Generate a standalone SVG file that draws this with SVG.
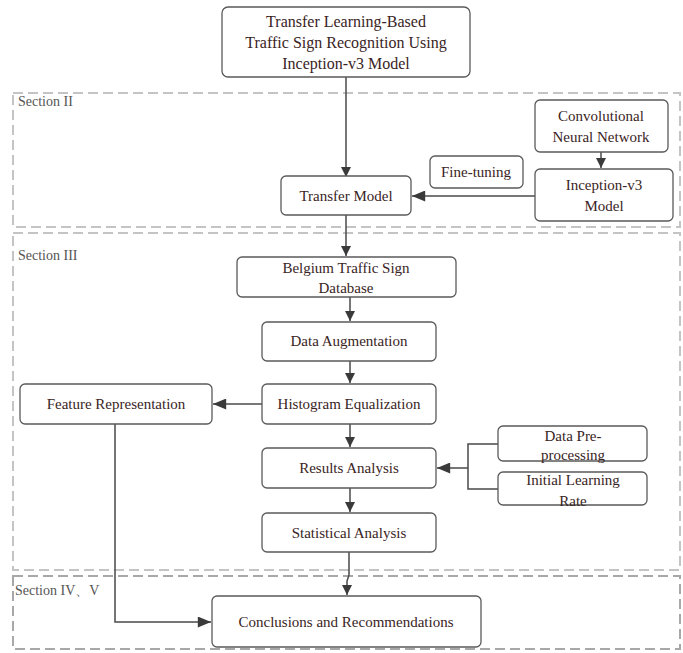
<svg xmlns="http://www.w3.org/2000/svg" width="683" height="653" viewBox="0 0 683 653">
<style>
.bg{fill:#fff}
.sec{fill:none;stroke:#c4c4c4;stroke-width:2;stroke-dasharray:10 5}
.sec2{fill:none;stroke:#a8a8a8;stroke-width:2;stroke-dasharray:10 5}
.lab{font-family:"Liberation Serif","Times New Roman","DejaVu Serif",serif;font-size:14px;fill:#555}
.box{fill:#fff;stroke:#5a5a5a;stroke-width:1.3}
.t{font-family:"Liberation Serif","Times New Roman","DejaVu Serif",serif;font-size:15px;fill:#3a2424;text-anchor:middle}
.tt{font-family:"Liberation Serif","Times New Roman","DejaVu Serif",serif;font-size:16px;fill:#3a2424;text-anchor:middle}
.c{fill:none;stroke:#4a4a4a;stroke-width:1.5}
</style>
<defs>
<marker id="ah" viewBox="0 0 10 10" refX="10" refY="5" markerWidth="10" markerHeight="10" markerUnits="userSpaceOnUse" orient="auto">
<path d="M0,0 L10,5 L0,10 z" fill="#3a3a3a"/>
</marker>
<marker id="ahw" viewBox="0 0 12 10" refX="12" refY="5" markerWidth="14" markerHeight="11" markerUnits="userSpaceOnUse" orient="auto">
<path d="M0,0 L12,5 L0,10 z" fill="#3a3a3a"/>
</marker>
</defs>
<rect class="bg" x="0" y="0" width="683" height="653"/>
<g id="sections">
<rect class="sec" x="13" y="93" width="667" height="134"/>
<text class="lab" x="18" y="106">Section  II</text>
<rect class="sec" x="13" y="233" width="667" height="337"/>
<text class="lab" x="18" y="260">Section  III</text>
<rect class="sec2" x="13" y="576" width="667" height="73"/>
<text class="lab" x="15" y="595">Section IV、V</text>
</g>
<g id="connectors">
<path class="c" d="M346,77 V177" marker-end="url(#ah)"/>
<path class="c" d="M601,152 V168" marker-end="url(#ah)"/>
<path class="c" d="M535,196 H412" marker-end="url(#ahw)"/>
<path class="c" d="M346,215 V256" marker-end="url(#ah)"/>
<path class="c" d="M350,297 V321" marker-end="url(#ah)"/>
<path class="c" d="M350,361 V383" marker-end="url(#ah)"/>
<path class="c" d="M262,404 H213" marker-end="url(#ahw)"/>
<path class="c" d="M350,424 V447" marker-end="url(#ah)"/>
<path class="c" d="M498,444 H468 V489 H498"/>
<path class="c" d="M468,468 H437" marker-end="url(#ahw)"/>
<path class="c" d="M350,488 V512" marker-end="url(#ah)"/>
<path class="c" d="M349,552 V575 L347,581 V595" marker-end="url(#ah)"/>
<path class="c" d="M115,424 V622 H211" marker-end="url(#ahw)"/>
</g>
<g id="title">
<rect class="box" x="222" y="7" width="248" height="70" rx="6"/>
<text class="tt" x="346" y="27">Transfer Learning-Based</text>
<text class="tt" x="346" y="48">Traffic Sign Recognition Using</text>
<text class="tt" x="346" y="69">Inception-v3 Model</text>
</g>
<g id="cnn">
<rect class="box" x="535" y="100" width="133" height="52" rx="5"/>
<text class="t" x="601" y="121">Convolutional</text>
<text class="t" x="601" y="142">Neural Network</text>
</g>
<g id="finetuning">
<rect class="box" x="430" y="156" width="93" height="32" rx="5"/>
<text class="t" x="476" y="177">Fine-tuning</text>
</g>
<g id="inception">
<rect class="box" x="535" y="169" width="138" height="52" rx="5"/>
<text class="t" x="604" y="190">Inception-v3</text>
<text class="t" x="604" y="211">Model</text>
</g>
<g id="transfer">
<rect class="box" x="281" y="176" width="130" height="39" rx="5"/>
<text class="t" x="346" y="201">Transfer Model</text>
</g>
<g id="belgium">
<rect class="box" x="237" y="257" width="219" height="40" rx="5"/>
<text class="t" x="346" y="273">Belgium Traffic Sign</text>
<text class="t" x="346" y="293">Database</text>
</g>
<g id="augmentation">
<rect class="box" x="262" y="322" width="174" height="39" rx="5"/>
<text class="t" x="349" y="346">Data Augmentation</text>
</g>
<g id="histogram">
<rect class="box" x="262" y="384" width="174" height="40" rx="5"/>
<text class="t" x="349" y="409">Histogram Equalization</text>
</g>
<g id="feature">
<rect class="box" x="20" y="384" width="192" height="40" rx="5"/>
<text class="t" x="116" y="409">Feature Representation</text>
</g>
<g id="results">
<rect class="box" x="262" y="448" width="174" height="40" rx="5"/>
<text class="t" x="349" y="473">Results Analysis</text>
</g>
<g id="preprocessing">
<rect class="box" x="498" y="426" width="149" height="35" rx="5"/>
<text class="t" x="573" y="441">Data Pre-</text>
<text class="t" x="573" y="460">processing</text>
</g>
<g id="learningrate">
<rect class="box" x="498" y="472" width="149" height="33" rx="5"/>
<text class="t" x="573" y="485">Initial Learning</text>
<text class="t" x="573" y="506">Rate</text>
</g>
<g id="statistical">
<rect class="box" x="262" y="513" width="174" height="39" rx="5"/>
<text class="t" x="349" y="538">Statistical Analysis</text>
</g>
<g id="conclusions">
<rect class="box" x="212" y="596" width="269" height="51" rx="5"/>
<text class="t" x="346" y="627">Conclusions and Recommendations</text>
</g>
</svg>
